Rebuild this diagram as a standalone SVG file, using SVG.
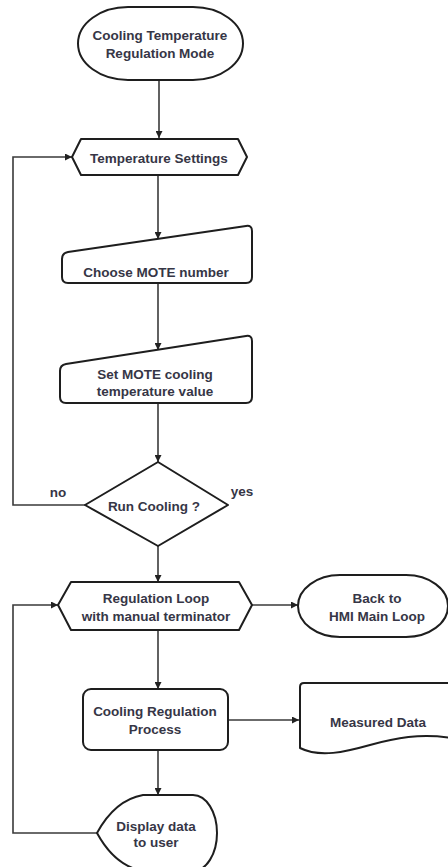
<svg xmlns="http://www.w3.org/2000/svg" width="448" height="867" viewBox="0 0 448 867">
<defs>
<marker id="arr" viewBox="0 0 10 10" refX="10" refY="5" markerWidth="7" markerHeight="7" markerUnits="userSpaceOnUse" orient="auto">
<path d="M0,0 L10,5 L0,10 Z" fill="#222"/>
</marker>
<style>
.n{fill:#fff;stroke:#1e1e1e;stroke-width:2;stroke-linejoin:round}
.c{fill:none;stroke:#3a3a3a;stroke-width:1.6;marker-end:url(#arr)}
text{font-family:"Liberation Sans",Arial,sans-serif;font-size:13.5px;font-weight:bold;fill:#363646;text-anchor:middle}
</style>
</defs>
<rect width="448" height="867" fill="#fff"/>
<g id="connectors">
<path class="c" d="M159,80 V138"/>
<path class="c" d="M158,175 V239"/>
<path class="c" d="M158,283 V350"/>
<path class="c" d="M158,403 V462"/>
<path class="c" d="M158,546 V582"/>
<path class="c" d="M158,630 V689"/>
<path class="c" d="M228,720 H299"/>
<path class="c" d="M158,750 V795"/>
<path class="c" d="M252,605 H298"/>
<path class="c" d="M85,505 H13 V157 H72"/>
<path class="c" d="M97,833 H13 V605 H58"/>
<text x="58" y="497">no</text>
<text x="242" y="496">yes</text>
</g>
<g id="start">
<rect class="n" x="78" y="7" width="165" height="73" rx="50" ry="36.5"/>
<text x="160" y="40">Cooling Temperature</text>
<text x="160" y="58">Regulation Mode</text>
</g>
<g id="temp-settings">
<path class="n" d="M72,157 L81,139 H238 L247,157 L238,175 H81 Z"/>
<text x="159" y="163">Temperature Settings</text>
</g>
<g id="choose-mote">
<path class="n" d="M62,259 Q62,253 68,252 L246,226 Q252,225 252,231 L252,277 Q252,283 246,283 L68,283 Q62,283 62,277 Z"/>
<text x="156" y="277">Choose MOTE number</text>
</g>
<g id="set-mote">
<path class="n" d="M60,371 Q60,365 66,364 L246,336 Q252,335 252,341 L252,397 Q252,403 246,403 L66,403 Q60,403 60,397 Z"/>
<text x="155" y="379">Set MOTE cooling</text>
<text x="155" y="396">temperature value</text>
</g>
<g id="run-cooling">
<path class="n" d="M158,462 L228,505 L158,546 L85,505 Z"/>
<text x="154" y="511">Run Cooling ?</text>
</g>
<g id="regulation-loop">
<path class="n" d="M58,605 L71,582 H239 L252,605 L239,630 H71 Z"/>
<text x="156" y="603">Regulation Loop</text>
<text x="156" y="621">with manual terminator</text>
</g>
<g id="back-hmi">
<rect class="n" x="298" y="575" width="150" height="62" rx="42" ry="31"/>
<text x="377" y="603">Back to</text>
<text x="377" y="621">HMI Main Loop</text>
</g>
<g id="cooling-process">
<rect class="n" x="83" y="689" width="145" height="61" rx="8"/>
<text x="155" y="716">Cooling Regulation</text>
<text x="155" y="734">Process</text>
</g>
<g id="measured-data">
<path class="n" d="M300,748 V687 Q300,683 304,683 H452 V738 C420,733 395,738 370,745 C345,752 320,758 300,748 Z"/>
<text x="378" y="727">Measured Data</text>
</g>
<g id="display-data">
<path class="n" d="M97,833 Q115,800 143,795 H193 A24,38 0 0 1 193,871 H143 Q115,866 97,833 Z"/>
<text x="156" y="831">Display data</text>
<text x="156" y="847">to user</text>
</g>
</svg>
